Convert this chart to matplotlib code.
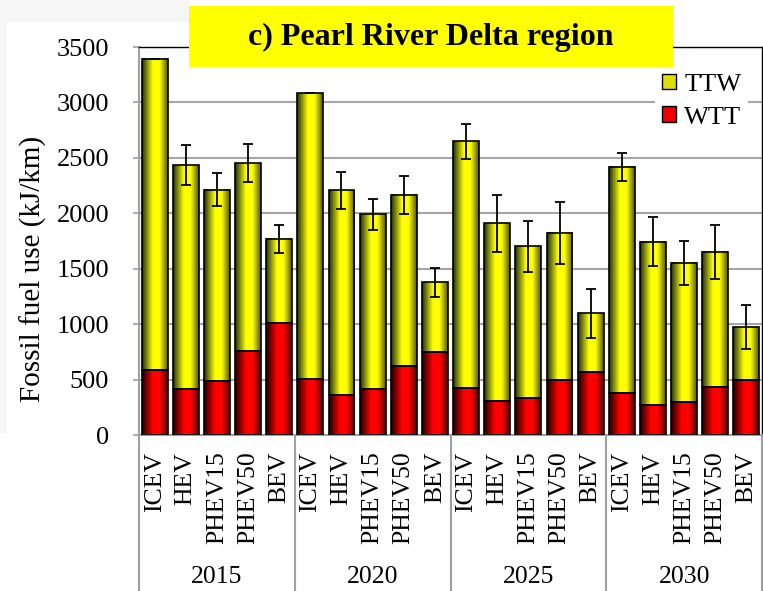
import numpy as np
import matplotlib
matplotlib.use('Agg')
import matplotlib.pyplot as plt
from matplotlib.colors import LinearSegmentedColormap
from matplotlib.patches import Rectangle, Patch
import matplotlib.transforms as mtransforms

plt.rcParams['font.family'] = ['Liberation Serif', 'DejaVu Serif']

# ---------------- data ----------------
years = ['2015', '2020', '2025', '2030']
vehicles = ['ICEV', 'HEV', 'PHEV15', 'PHEV50', 'BEV']
wtt = [584, 418, 490, 760, 1010,
       508, 364, 412, 622, 752,
       421, 307, 334, 493, 568,
       376, 271, 295, 433, 496]
ttw = [2806, 2015, 1723, 1693, 761,
       2574, 1843, 1578, 1543, 625,
       2228, 1602, 1368, 1329, 530,
       2044, 1473, 1256, 1218, 478]
err = [0, 180, 150, 175, 125,
       0, 165, 142, 174, 133,
       160, 255, 230, 280, 220,
       125, 220, 200, 245, 200]
yticks = [0, 500, 1000, 1500, 2000, 2500, 3000, 3500]

# ---------------- figure ----------------
W, H = 763, 591
fig = plt.figure(figsize=(W / 100, H / 100), dpi=100)
fig.patch.set_facecolor('white')
ax = fig.add_axes([139 / W, (H - 435) / H, 623 / W, 388 / H])

labels = [v for _ in years for v in vehicles]
x = np.arange(len(labels))
wtt_a = np.array(wtt)
ttw_a = np.array(ttw)
bw = 0.83

cm_y = LinearSegmentedColormap.from_list('yel', [(0, '#1e2e16'), (0.42, '#ffff00'),
                                                 (0.68, '#ffff00'), (1.0, '#55550a')])
cm_r = LinearSegmentedColormap.from_list('red', [(0, '#1a0000'), (0.42, '#ff0000'),
                                                 (0.68, '#ff0000'), (1.0, '#550000')])
grad = np.linspace(0, 1, 128).reshape(1, -1)

b1 = ax.bar(x, wtt_a, width=bw, facecolor='none', edgecolor='black', linewidth=1.2, zorder=3)
b2 = ax.bar(x, ttw_a, width=bw, bottom=wtt_a, facecolor='none', edgecolor='black',
            linewidth=1.2, zorder=3)
for bars, cm in ((b1, cm_r), (b2, cm_y)):
    for r in bars:
        x0, y0 = r.get_x(), r.get_y()
        ax.imshow(grad, cmap=cm, extent=(x0, x0 + r.get_width(), y0, y0 + r.get_height()),
                  aspect='auto', interpolation='bilinear', zorder=2.5)

ax.errorbar(x, wtt_a + ttw_a, yerr=err, fmt='none', ecolor='black', elinewidth=1.3,
            capsize=3.5, capthick=1.3, zorder=4)

ax.set_xlim(-0.5, len(labels) - 0.5)
ax.set_ylim(0, 3500)
ax.set_yticks(yticks)
ax.set_yticklabels([str(t) for t in yticks], fontsize=19)
ax.set_xticks(x)
ax.set_xticklabels(labels, rotation=90, fontsize=18.5, va='top', ha='center')
ax.tick_params(axis='x', length=0, pad=12)
ax.tick_params(axis='y', length=4.5, width=1.2, color='#a0a0a0', pad=17)
ax.set_axisbelow(True)
ax.yaxis.grid(True, color='#a6a6a6', linewidth=1.5)
for s in ('top', 'right'):
    ax.spines[s].set_color('black')
    ax.spines[s].set_linewidth(1.0)
for s in ('left', 'bottom'):
    ax.spines[s].set_color('#a0a0a0')
    ax.spines[s].set_linewidth(1.5)

# group separators and year labels
trans = mtransforms.blended_transform_factory(ax.transData, ax.transAxes)
n = len(vehicles)
for g in range(len(years) + 1):
    xs = g * n - 0.5
    ax.plot([xs, xs], [0, -0.42], transform=trans, color='#a0a0a0', linewidth=1.5,
            clip_on=False, zorder=1)
for g, yr in enumerate(years):
    ax.text(g * n + (n - 1) / 2, -0.365, yr, transform=trans, ha='center', va='center',
            fontsize=18.5)

# y label
fig.text(33 / W, (H - 269) / H, 'Fossil fuel use (kJ/km)', rotation=90, ha='center',
         va='center', fontsize=21)

# legend
handles = [Patch(facecolor='#e0e000', edgecolor='black', linewidth=1.0, label='TTW'),
           Patch(facecolor='#ee0000', edgecolor='black', linewidth=1.0, label='WTT')]
leg = ax.legend(handles=handles, loc='upper right', bbox_to_anchor=(748 / W, (H - 67) / H),
                bbox_transform=fig.transFigure, fontsize=19, frameon=True, fancybox=False,
                handlelength=0.55, handleheight=0.55, handletextpad=0.3, labelspacing=0.4,
                borderpad=0.25, borderaxespad=0)
leg.get_frame().set_facecolor('white')
leg.get_frame().set_edgecolor('none')
leg.get_frame().set_alpha(1)

# faint background strips
fig.patches.append(Rectangle((0, (H - 433) / H), 7 / W, 433 / H, transform=fig.transFigure,
                             facecolor='#f6f6f6', edgecolor='none', zorder=-1))
fig.patches.append(Rectangle((0, (H - 22) / H), 189 / W, 22 / H, transform=fig.transFigure,
                             facecolor='#f6f6f6', edgecolor='none', zorder=-1))

# title box
fig.patches.append(Rectangle((189 / W, (H - 67) / H), 484 / W, 61 / H, transform=fig.transFigure,
                             facecolor='#ffff00', edgecolor='none', zorder=5))
fig.text(431 / W, (H - 37) / H, 'c) Pearl River Delta region', ha='center', va='center',
         fontsize=23, fontweight='bold', zorder=6)

fig.savefig('out.png', dpi=100)
